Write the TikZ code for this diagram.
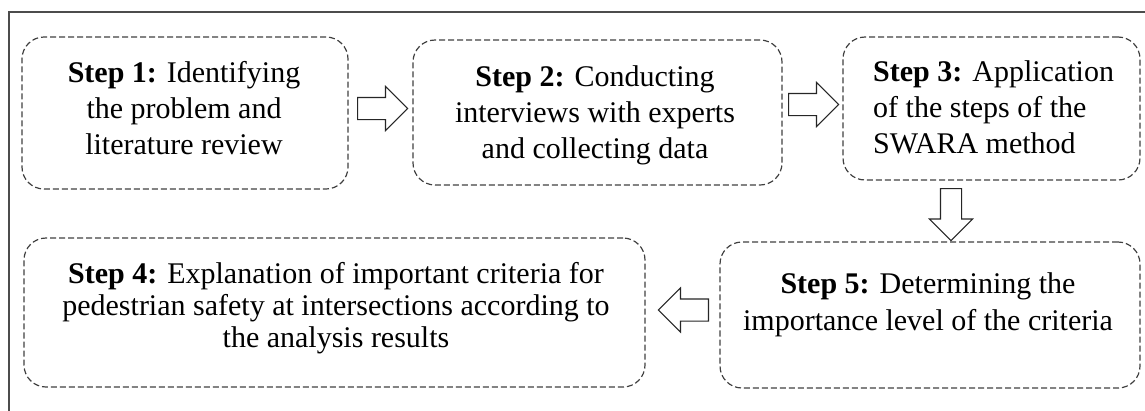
\documentclass[tikz,border=0pt]{standalone}
\usepackage{fontspec}
\setmainfont{Liberation Serif}
\usetikzlibrary{shapes.arrows}
\tikzset{
  stepbox/.style={draw=black!75, line width=1.2pt, dash pattern=on 6pt off 3pt, rounded corners=22pt, inner sep=0pt},
  steptext/.style={inner sep=0pt, align=center, font=\fontsize{30}{36}\selectfont, text=black},
  blockarrow/.style={shape=single arrow, draw=black!85, line width=1.1pt, fill=white, inner xsep=0pt, inner ysep=10.5pt,
     single arrow head extend=11pt, minimum height=50pt, single arrow tip angle=90},
  vblockarrow/.style={blockarrow, inner xsep=10pt, inner ysep=0pt, minimum height=52pt},
  frameline/.style={draw=black!70, line width=1.6pt}
}
\begin{document}
\begin{tikzpicture}[x=1pt,y=-1pt]
\useasboundingbox (0,0) rectangle (1145,410);
\draw[frameline] (1150,12) -- (9,12) -- (9,415);
% boxes
\node[stepbox, minimum width=326pt, minimum height=152pt] (b1) at (185,113) {};
\node[stepbox, minimum width=369pt, minimum height=145pt] (b2) at (597.5,112.5) {};
\node[stepbox, minimum width=297pt, minimum height=143pt] (b3) at (991.5,108.5) {};
\node[stepbox, minimum width=621pt, minimum height=149pt] (b4) at (334.5,312.5) {};
\node[stepbox, minimum width=420pt, minimum height=146pt] (b5) at (930,315) {};
% texts (base = baseline of last line)
\node[steptext, anchor=base] (t1) at (184,154) {\textbf{Step 1:} Identifying\\the problem and\\literature review};
\node[steptext, anchor=base] (t2) at (595,158) {\textbf{Step 2:} Conducting\\interviews with experts\\and collecting data};
\node[steptext, anchor=base west, align=left] (t3) at (873,153) {\textbf{Step 3:} Application\\of the steps of the\\SWARA method};
\node[steptext, anchor=base, font=\fontsize{30}{32}\selectfont] (t4) at (336,347) {\textbf{Step 4:} Explanation of important criteria for\\pedestrian safety at intersections according to\\the analysis results};
\node[steptext, anchor=base, font=\fontsize{30}{37}\selectfont] (t5) at (928,330) {\textbf{Step 5:} Determining the\\importance level of the criteria};
% arrows
\node[blockarrow, anchor=tail] (a12) at (357,108.5) {};
\node[blockarrow, anchor=tail] (a23) at (788,104.5) {};
\node[vblockarrow, anchor=tail, shape border rotate=270] (a35) at (951,188) {};
\node[blockarrow, anchor=tail, shape border rotate=180] (a54) at (709,310) {};
\end{tikzpicture}
\end{document}
